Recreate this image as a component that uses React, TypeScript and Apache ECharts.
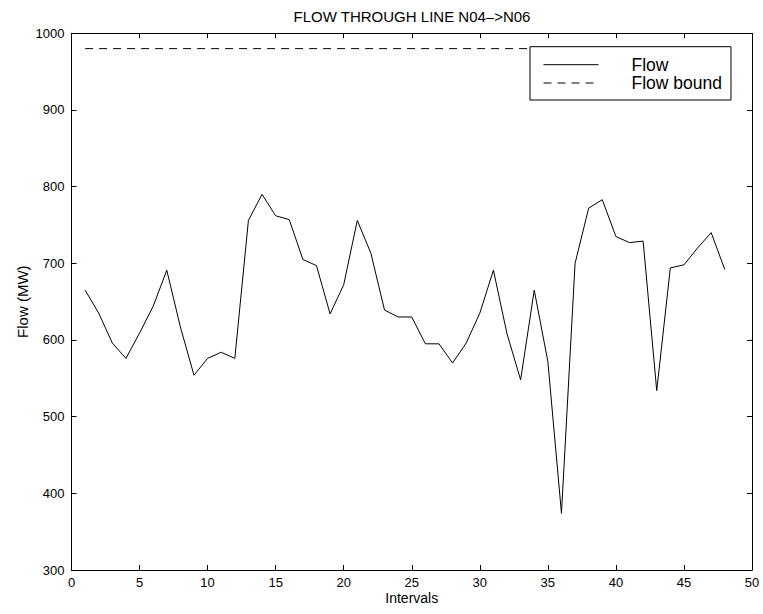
import React, { useEffect, useRef } from "react";
import * as echarts from "echarts";

const intervals = [1,2,3,4,5,6,7,8,9,10,11,12,13,14,15,16,17,18,19,20,21,22,23,24,25,26,27,28,29,30,31,32,33,34,35,36,37,38,39,40,41,42,43,44,45,46,47,48];
const flowValues = [665,635,596,576,609,644,691,617,554,576,584,576,756,790,762,757,705,697,634,672,756,713,639,630,630,595,595,570,596,635,691,608,548,665,572,374,700,772,783,735,727,729,534,694,698,720,740,692];
const boundX = [1, 48];
const boundValues = [980, 980];
const xTicks = { min: 0, max: 50, interval: 5 };
const yTicks = { min: 300, max: 1000, interval: 100 };

const FONT = "'Liberation Sans', Arial, Helvetica, sans-serif";

export default function App() {
  const ref = useRef<HTMLDivElement>(null);
  useEffect(() => {
    if (!ref.current) return;
    const chart = echarts.init(ref.current, undefined, { renderer: "svg" });
    const axisCommon = {
      type: "value" as const,
      splitLine: { show: false },
      axisLine: { show: true, onZero: false, lineStyle: { color: "#000", width: 1 } },
      axisTick: { show: true, inside: true, length: 5, lineStyle: { color: "#000" } },
    };
    chart.setOption({
      animation: false,
      backgroundColor: "#fff",
      textStyle: { fontFamily: FONT, color: "#000" },
      title: {
        text: "FLOW THROUGH LINE N04\u2013>N06",
        left: 412,
        top: 9,
        padding: 0,
        textAlign: "center",
        textStyle: { fontFamily: FONT, fontSize: 15, fontWeight: "normal", color: "#000" },
      },
      grid: { left: 71.5, right: 11, top: 33.3, bottom: 44, containLabel: false },
      legend: {
        orient: "vertical",
        left: 530,
        top: 46.7,
        padding: [9, 9, 8, 13],
        itemGap: 0.3,
        itemWidth: 55,
        itemHeight: 14,
        borderColor: "#000",
        borderWidth: 1,
        backgroundColor: "#fff",
        itemStyle: { color: "rgba(0,0,0,0)", borderWidth: 0, opacity: 0 },
        lineStyle: { width: 1 },
        textStyle: { fontFamily: FONT, fontSize: 17.5, color: "#000", lineHeight: 18, padding: [0, 0, 0, 28] },
        data: ["Flow", "Flow bound"],
      },
      xAxis: [
        {
          ...axisCommon,
          position: "bottom",
          min: xTicks.min,
          max: xTicks.max,
          interval: xTicks.interval,
          name: "Intervals",
          nameLocation: "middle",
          nameGap: 21,
          nameMoveOverlap: false,
          nameTextStyle: { fontFamily: FONT, fontSize: 14, color: "#000" },
          axisLabel: { fontFamily: FONT, fontSize: 13, color: "#000", margin: 6 },
        },
        {
          ...axisCommon,
          position: "top",
          min: xTicks.min,
          max: xTicks.max,
          interval: xTicks.interval,
          axisLabel: { show: false },
        },
      ],
      yAxis: [
        {
          ...axisCommon,
          position: "left",
          min: yTicks.min,
          max: yTicks.max,
          interval: yTicks.interval,
          name: "Flow (MW)",
          nameLocation: "middle",
          nameGap: 42,
          nameMoveOverlap: false,
          nameTextStyle: { fontFamily: FONT, fontSize: 15, color: "#000" },
          axisLabel: { fontFamily: FONT, fontSize: 13, color: "#000", margin: 7, formatter: (v: number) => String(v) },
        },
        {
          ...axisCommon,
          position: "right",
          min: yTicks.min,
          max: yTicks.max,
          interval: yTicks.interval,
          axisLabel: { show: false },
        },
      ],
      series: [
        {
          name: "Flow",
          type: "line",
          xAxisIndex: 0,
          yAxisIndex: 0,
          symbol: "none",
          lineStyle: { color: "#000", width: 1 },
          itemStyle: { color: "#000" },
          data: intervals.map((x, i) => [x, flowValues[i]]),
        },
        {
          name: "Flow bound",
          type: "line",
          xAxisIndex: 0,
          yAxisIndex: 0,
          symbol: "none",
          lineStyle: { color: "#000", width: 1, type: [8, 6] },
          itemStyle: { color: "#000" },
          data: boundX.map((x, i) => [x, boundValues[i]]),
        },
      ],
    });
    return () => chart.dispose();
  }, []);
  return <div ref={ref} style={{ width: 763, height: 614, position: "absolute", left: 0, top: 0 }} />;
}
